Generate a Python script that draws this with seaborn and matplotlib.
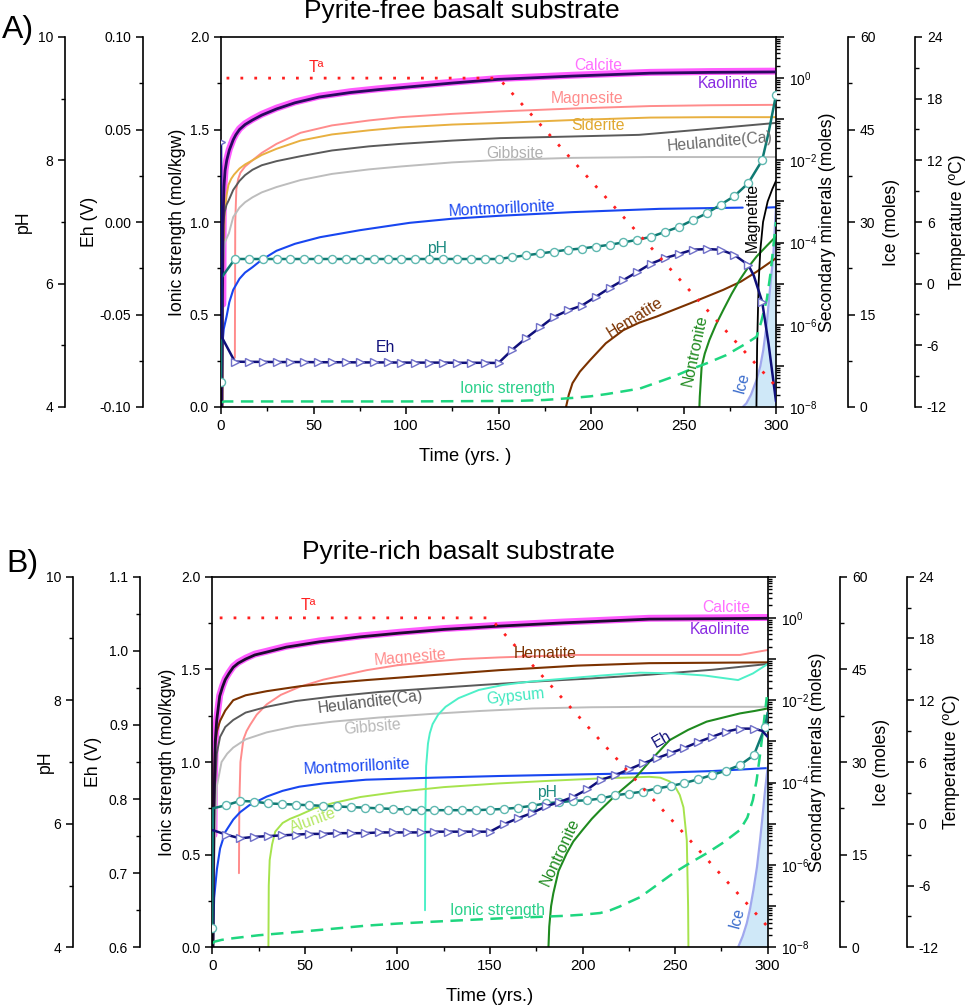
import numpy as np
import matplotlib
matplotlib.use("Agg")
import matplotlib.pyplot as plt
import seaborn as sns
from matplotlib.ticker import (MultipleLocator, FormatStrFormatter, LogLocator,
                               NullFormatter, FuncFormatter)

sns.set_theme(style="ticks", rc={
    "axes.edgecolor": "black", "xtick.color": "black", "ytick.color": "black",
    "text.color": "black", "axes.labelcolor": "black"})
plt.rcParams["font.family"] = ["Liberation Sans", "DejaVu Sans"]
plt.rcParams["mathtext.fontset"] = "custom"
plt.rcParams["mathtext.rm"] = "Liberation Sans"
plt.rcParams["mathtext.it"] = "Liberation Sans:italic"
plt.rcParams["mathtext.default"] = "regular"

# ------------------------------------------------------------------ DATA
# time samples at which pH / Eh markers were drawn (yrs)
step_times = [7.5, 15, 22.5, 30, 37.5, 45, 52.5, 60, 67.5, 75, 82.5, 90, 97.5, 105,
              112.5, 120, 127.5, 135, 142.5, 150, 157.5, 165, 172.5, 180, 187.5, 195,
              202.5, 210, 217.5, 225, 232.5, 240, 247.5, 255, 262.5, 270, 277.5, 285, 292.5]

# ---------------- Panel A: pyrite-free basalt (minerals as log10 moles)
calcite_A_t = [1.0, 1.2, 1.6, 2.2, 3.1, 4.5, 6.6, 8, 10, 13, 17, 22, 30, 40, 53, 70, 85, 100,
               125, 150, 190, 232, 265, 300]
calcite_A = [-5.5, -3.3, -2.62, -2.23, -1.98, -1.73, -1.48, -1.36, -1.23, -1.11, -1.0, -0.88,
             -0.73, -0.58, -0.44, -0.33, -0.26, -0.2, -0.1, -0.01, 0.07, 0.14, 0.16, 0.17]
kaolinite_A_t = [0.5, 0.8, 1.2, 1.6, 2.2, 3.1, 4.5, 6.6, 8, 10, 13, 17, 22, 30, 40, 53, 70, 85,
                 100, 125, 150, 190, 232, 265, 300]
kaolinite_A = [-8.5, -5.3, -3.3, -2.64, -2.25, -2.0, -1.75, -1.5, -1.38, -1.25, -1.13, -1.02,
               -0.9, -0.75, -0.6, -0.46, -0.35, -0.28, -0.22, -0.12, -0.03, 0.05, 0.12, 0.14, 0.15]
magnesite_A_t = [7.5, 7.7, 8.3, 9.3, 10.5, 13, 17, 22, 30, 43, 60, 80, 97, 125, 151, 190, 232,
                 265, 300]
magnesite_A = [-6.8, -3.5, -2.7, -2.45, -2.3, -2.15, -2.0, -1.82, -1.6, -1.33, -1.15, -1.03,
               -0.95, -0.87, -0.81, -0.74, -0.68, -0.66, -0.65]
siderite_A_t = [0.8, 1.2, 2, 3, 4, 5.5, 7, 10, 13, 17, 22, 30, 43, 60, 80, 97, 125, 151, 190,
                232, 265, 300]
siderite_A = [-8.2, -4.5, -3.3, -2.85, -2.6, -2.45, -2.35, -2.2, -2.1, -2.0, -1.87, -1.72,
              -1.52, -1.37, -1.27, -1.2, -1.13, -1.09, -1.02, -0.96, -0.95, -0.95]
heulandite_A_t = [0.4, 1, 2, 3, 4.3, 6.6, 10, 13, 17, 22, 30, 43, 60, 80, 97, 125, 151, 190,
                  226, 260, 300]
heulandite_A = [-5.5, -3.6, -3.25, -3.08, -2.96, -2.72, -2.5, -2.36, -2.23, -2.12, -2.02, -1.9,
                -1.76, -1.66, -1.6, -1.52, -1.46, -1.42, -1.38, -1.25, -1.09]
gibbsite_A_t = [0.5, 1, 2, 3, 4.3, 6.6, 10, 13, 17, 22, 30, 43, 60, 80, 97, 125, 151, 190,
                232, 300]
gibbsite_A = [-6.5, -4.5, -4.0, -3.9, -3.77, -3.38, -3.15, -3.02, -2.9, -2.78, -2.65, -2.48,
              -2.33, -2.22, -2.15, -2.05, -1.99, -1.94, -1.92, -1.92]
montmor_A_t = [0.3, 0.7, 1.5, 3, 4.5, 6.6, 10, 13, 17, 22, 30, 40, 53.5, 75, 102, 125, 150,
               190, 237, 282]
montmor_A = [-8.5, -6.5, -6.1, -5.8, -5.45, -5.15, -4.88, -4.73, -4.6, -4.42, -4.2, -4.03,
             -3.87, -3.7, -3.52, -3.42, -3.35, -3.26, -3.18, -3.15]
montmor_A2_t = [295, 300]
montmor_A2 = [-3.15, -3.14]
hematite_A_t = [186, 188, 190, 194, 199.5, 208, 217.5, 226, 235.5, 253.5, 271.5, 281, 289.5, 300]
hematite_A = [-8.1, -7.7, -7.42, -7.14, -6.86, -6.45, -6.13, -5.95, -5.8, -5.48, -5.15, -4.95,
              -4.71, -4.38]
nontronite_A_t = [258.5, 258.8, 259.8, 261.5, 264, 267.5, 271.5, 276, 280.5, 285, 289.5, 295, 300]
nontronite_A = [-8.1, -7.75, -7.02, -6.7, -6.37, -6.0, -5.64, -5.25, -4.9, -4.6, -4.34, -4.08,
                -3.85]
magnetite_A_t = [289.4, 289.8, 290.6, 291.5, 293, 295.5, 298, 300]
magnetite_A = [-8.1, -6.5, -5.0, -4.2, -3.5, -3.0, -2.7, -2.5]

ionic_A_t = [0, 2, 100, 160, 175, 190, 200, 208.5, 217, 226.5, 235, 244.5, 253, 262.5, 273,
             284, 289.5, 292, 295, 297, 300]
ionic_A = [0.025, 0.03, 0.03, 0.033, 0.038, 0.049, 0.058, 0.07, 0.084, 0.10, 0.13, 0.164, 0.2,
           0.236, 0.28, 0.344, 0.38, 0.46, 0.58, 0.72, 1.0]

ph_A_t = [0, 0.3] + step_times + [296, 300]
ph_A = [4.4, 6.1,
        6.4, 6.4, 6.4, 6.4, 6.4, 6.4, 6.4, 6.4, 6.4, 6.4,
        6.4, 6.4, 6.4, 6.4, 6.4, 6.4, 6.4, 6.4, 6.4, 6.4,
        6.43, 6.46, 6.49, 6.52, 6.55, 6.57, 6.6, 6.63, 6.67, 6.71,
        6.76, 6.84, 6.92, 7.03, 7.14, 7.28, 7.42, 7.63, 8.0,
        8.45, 9.06]
ph_A_line_only = [0.3, 296]

eh_A_t = [0, 0.3] + step_times[:38] + [288, 292.5, 296, 300]
eh_A = [0.043, -0.062,
        -0.0755, -0.0756, -0.0756, -0.0757, -0.0757, -0.0757, -0.0758, -0.0758, -0.0758, -0.0759,
        -0.0759, -0.0759, -0.076, -0.076, -0.076, -0.076, -0.0761, -0.0761, -0.0761, -0.0762,
        -0.069, -0.0627, -0.057, -0.0513, -0.0478, -0.0452, -0.0405, -0.0357, -0.0314, -0.027,
        -0.0225, -0.0195, -0.0173, -0.015, -0.0146, -0.015, -0.0178, -0.0232,
        -0.029, -0.043, -0.066, -0.097]
eh_A_line_only = [0.3, 288, 296, 300]

ice_A_t = [282, 284, 286.5, 289.5, 291.5, 293.1, 295, 296.7, 298.5, 300]
ice_A = [0, 0.6, 2.0, 4.4, 6.6, 9.2, 13.5, 19, 24.4, 32.5]
temp_A_t = [3, 150, 300]
temp_A = [20, 20, -10]

# ---------------- Panel B: pyrite-rich basalt
calcite_B_t = [0.9, 1.2, 1.6, 2.4, 4, 5.5, 7, 9, 11.3, 14, 18, 23, 29.4, 40, 58, 80, 101, 125,
               155, 190, 236, 270, 300]
calcite_B = [-5.27, -3.9, -3.0, -2.45, -1.88, -1.66, -1.48, -1.33, -1.18, -1.08, -0.98, -0.88,
             -0.81, -0.69, -0.56, -0.44, -0.35, -0.26, -0.18, -0.1, -0.01, 0.0, 0.01]
kaolinite_B_t = [0.3, 0.8, 1.2, 1.6, 2.4, 4, 5.5, 7, 9, 11.3, 14, 18, 23, 29.4, 40, 58, 80, 101,
                 125, 155, 190, 236, 270, 300]
kaolinite_B = [-8.5, -5.0, -3.9, -3.0, -2.48, -1.9, -1.68, -1.5, -1.35, -1.2, -1.1, -1.0, -0.9,
               -0.83, -0.71, -0.58, -0.46, -0.37, -0.28, -0.2, -0.12, -0.03, -0.02, -0.01]
magnesite_B_t = [14.4, 14.6, 15.2, 16.8, 18.5, 20.4, 24, 29.4, 37, 47.4, 60, 83.4, 100, 119, 135,
                 155, 175, 197, 236, 285, 300]
magnesite_B = [-6.2, -4.5, -3.5, -2.95, -2.75, -2.6, -2.35, -2.1, -1.87, -1.67, -1.5, -1.27,
               -1.15, -1.06, -1.0, -0.96, -0.93, -0.9, -0.9, -0.9, -0.78]
hematite_B_t = [0.3, 1, 1.5, 2.5, 4.2, 7, 11.3, 18, 29.4, 47.4, 65, 83.4, 119, 155, 197, 236, 300]
hematite_B = [-8.5, -4.0, -3.1, -2.75, -2.5, -2.25, -2.0, -1.88, -1.78, -1.66, -1.58, -1.51,
              -1.39, -1.27, -1.16, -1.1, -1.08]
heulandite_B_t = [0.3, 1, 2.4, 4.2, 7, 11.3, 18, 29.4, 45, 65, 90, 119, 145, 173, 205, 236, 270,
                  300]
heulandite_B = [-8.5, -4.5, -3.3, -2.89, -2.65, -2.48, -2.3, -2.16, -2.02, -1.91, -1.8, -1.71,
                -1.63, -1.55, -1.47, -1.38, -1.26, -1.12]
gibbsite_B_t = [0.3, 1, 2.4, 5, 8, 11.3, 18, 29.4, 45, 65, 90, 119, 145, 173, 205, 236, 300]
gibbsite_B = [-8.5, -6.0, -4.1, -3.5, -3.3, -3.15, -2.95, -2.78, -2.63, -2.52, -2.42, -2.33,
              -2.26, -2.2, -2.17, -2.16, -2.16]
gypsum_B_t = [114.9, 115, 115.5, 116.5, 117.5, 119, 122, 126, 133, 144, 157, 171, 189, 210, 231,
              250, 266, 284, 292, 300]
gypsum_B = [-7.1, -5.0, -3.6, -3.05, -2.8, -2.58, -2.35, -2.16, -1.95, -1.75, -1.63, -1.55, -1.48,
            -1.4, -1.33, -1.35, -1.4, -1.51, -1.35, -1.12]
montmor_B_t = [0.2, 0.5, 1, 2.5, 4.2, 7, 11.3, 15, 20, 29.4, 38, 47, 60, 83, 120, 155, 200, 236,
               270, 299]
montmor_B = [-8.5, -7.6, -6.8, -6.1, -5.6, -5.2, -4.9, -4.72, -4.55, -4.34, -4.2, -4.1, -4.02,
             -3.93, -3.88, -3.84, -3.8, -3.77, -3.72, -3.65]
alunite_B_t = [30.3, 30.5, 31, 32.3, 34, 38, 42, 47, 55, 65, 80, 101, 125, 155, 185, 209, 236,
               242, 247, 250, 252.5, 254.5, 256.3, 257, 257.2]
alunite_B = [-8.1, -6.5, -5.88, -5.5, -5.19, -4.98, -4.88, -4.79, -4.63, -4.5, -4.35, -4.22,
             -4.11, -4.02, -3.95, -3.9, -3.86, -3.88, -3.97, -4.1, -4.3, -4.6, -5.4, -7.0, -8.1]
nontronite_B_t = [181.5, 182, 183, 184.2, 187, 191.4, 195, 200, 205, 209.5, 218, 227.4, 237, 247,
                  257, 267, 276, 285, 293, 300]
nontronite_B = [-8.1, -7.5, -7.0, -6.69, -6.15, -5.72, -5.43, -5.15, -4.88, -4.67, -4.3, -3.94,
                -3.45, -2.97, -2.72, -2.52, -2.42, -2.32, -2.26, -2.2]

ionic_B_t = [0, 1, 5, 11.3, 25, 47.4, 65, 83.4, 100, 119, 137, 155, 173, 191, 200, 209.5, 215,
             220, 225, 231, 240, 249, 258, 267, 276, 285, 289, 292, 294, 296, 298, 299.5]
ionic_B = [0.02, 0.03, 0.04, 0.049, 0.065, 0.084, 0.1, 0.117, 0.128, 0.138, 0.147, 0.156, 0.163,
           0.17, 0.176, 0.185, 0.2, 0.22, 0.243, 0.27, 0.335, 0.40, 0.455, 0.507, 0.565, 0.633,
           0.7, 0.795, 0.9, 1.05, 1.22, 1.35]

ph_B_t = [0, 0.3] + step_times + [298.5, 300]
ph_B = [4.32, 6.25,
        6.30, 6.37, 6.36, 6.33, 6.32, 6.31, 6.30, 6.29, 6.28, 6.27,
        6.26, 6.25, 6.24, 6.23, 6.22, 6.22, 6.22, 6.22, 6.22, 6.23,
        6.24, 6.26, 6.29, 6.33, 6.35, 6.37, 6.38, 6.41, 6.46, 6.49,
        6.52, 6.57, 6.61, 6.66, 6.72, 6.79, 6.86, 6.95, 7.11,
        7.56, 7.8]
ph_B_line_only = [0.3, 300]

eh_B_t = [0.3] + step_times + [297, 300]
eh_B = [0.758,
        0.752, 0.747, 0.749, 0.750, 0.751, 0.752, 0.753, 0.753, 0.754, 0.754,
        0.754, 0.755, 0.755, 0.755, 0.755, 0.756, 0.756, 0.756, 0.756, 0.756,
        0.766, 0.774, 0.781, 0.79, 0.796, 0.803, 0.813, 0.826, 0.832, 0.84,
        0.848, 0.855, 0.862, 0.869, 0.877, 0.884, 0.891, 0.895, 0.895,
        0.892, 0.884]
eh_B_line_only = [0.3, 297, 300]

ice_B_t = [284, 286.5, 288.7, 290.5, 292.3, 294.2, 295.9, 297.3, 298.6, 300]
ice_B = [0, 1.8, 3.9, 6.3, 9.3, 13.0, 17.4, 21.5, 25.5, 29.2]
temp_B_t = [4, 150, 300]
temp_B = [20, 20, -10]

# ------------------------------------------------------------------ STYLE
C = dict(calcite="#ff5cff", kaolinite="#2a0a5e", magnesite="#ff8c8c", siderite="#e8b040",
         heulandite="#5a5a5a", gibbsite="#bdbdbd", montmor="#1846f0", hematite="#7b3200",
         nontronite="#1f8a1f", magnetite="#000000", gypsum="#4df0c8", alunite="#a6e34d",
         ph="#0f7a73", ph_edge="#5fb8b0", eh="#10107a", eh_edge="#7070c8",
         ionic="#1ed67f", temp="#ff2020", ice_fill="#cfe8f8", ice_edge="#a0a8ee")

FW, FH = 969, 1007
fig = plt.figure(figsize=(FW / 100, FH / 100), dpi=100)

TICK_FS = 10
LAB_FS = 12.7
TXT_FS = 11.3


def style_axis(ax):
    ax.patch.set_visible(False)
    for s in ax.spines.values():
        s.set_visible(False)
        s.set_linewidth(1.2)
    ax.tick_params(axis="both", which="major", direction="out", length=5, width=1.1,
                   labelsize=TICK_FS)
    ax.tick_params(axis="both", which="minor", direction="out", length=3, width=1.0)
    ax.tick_params(axis="x", which="both", bottom=False, top=False, labelbottom=False)
    ax.grid(False)


def line(ax, t, v, color, lw, z=2, **kw):
    sns.lineplot(x=t, y=v, ax=ax, color=color, linewidth=lw, estimator=None,
                 sort=False, zorder=z, **kw)


def build_panel(geom, minerals, ionic, ph, eh, ice, temp, eh_lim, eh_major, eh_minor, eh_fmt,
                labels, title, title_xy, letter, letter_xy, xlabel, xlabel_xy,
                axlab_x):
    x0, ytop, x1, ybot = geom
    W, H = x1 - x0, ybot - ytop
    rect = [x0 / FW, 1 - ybot / FH, W / FW, H / FH]

    ax_ice = fig.add_axes(rect, zorder=1)
    ax_min = fig.add_axes(rect, zorder=2, sharex=ax_ice)
    ax_ion = fig.add_axes(rect, zorder=3, sharex=ax_ice)
    ax_ph = fig.add_axes(rect, zorder=4, sharex=ax_ice)
    ax_eh = fig.add_axes(rect, zorder=5, sharex=ax_ice)
    ax_T = fig.add_axes(rect, zorder=6, sharex=ax_ice)
    for a in (ax_ice, ax_min, ax_ion, ax_ph, ax_eh, ax_T):
        style_axis(a)

    # --- ice
    it, iv = ice
    ax_ice.fill_between(it, 0, iv, color=C["ice_fill"], lw=0)
    line(ax_ice, it, iv, C["ice_edge"], 1.6)
    ax_ice.set_ylim(0, 60)
    ax_ice.yaxis.tick_right()
    ax_ice.yaxis.set_label_position("right")
    ax_ice.spines["right"].set_visible(True)
    ax_ice.spines["right"].set_position(("axes", (axlab_x["ice_sp"] - x0) / W))
    ax_ice.yaxis.set_major_locator(MultipleLocator(15))
    ax_ice.yaxis.set_minor_locator(MultipleLocator(7.5))
    ax_ice.yaxis.set_major_formatter(FormatStrFormatter("%d"))

    # --- minerals (log axis)
    for t, v, col, lw, z in minerals:
        line(ax_min, t, 10 ** np.asarray(v, dtype=float), col, lw, z)
    ax_min.set_yscale("log")
    ax_min.set_ylim(1e-8, 1e1)
    ax_min.yaxis.tick_right()
    ax_min.yaxis.set_label_position("right")
    ax_min.spines["right"].set_visible(True)
    ax_min.yaxis.set_major_locator(LogLocator(base=10, numticks=30))
    ax_min.yaxis.set_minor_locator(LogLocator(base=10, subs=np.arange(2, 10), numticks=30))
    ax_min.yaxis.set_minor_formatter(NullFormatter())

    def logfmt(v, pos):
        e = int(round(np.log10(v)))
        return r"$10^{%d}$" % e if e % 2 == 0 else ""
    ax_min.yaxis.set_major_formatter(FuncFormatter(logfmt))
    ax_min.tick_params(axis="y", which="major", length=6)

    # --- ionic strength (main axis)
    line(ax_ion, ionic[0], ionic[1], C["ionic"], 1.8, linestyle=(0, (5, 3)))
    ax_ion.set_ylim(0, 2.0)
    ax_ion.set_xlim(0, 300)
    for s in ("left", "bottom", "top"):
        ax_ion.spines[s].set_visible(True)
    ax_ion.yaxis.tick_left()
    ax_ion.yaxis.set_major_locator(MultipleLocator(0.5))
    ax_ion.yaxis.set_minor_locator(MultipleLocator(0.25))
    ax_ion.yaxis.set_major_formatter(FormatStrFormatter("%.1f"))
    ax_ion.tick_params(axis="x", which="both", bottom=True, labelbottom=True)
    ax_ion.xaxis.set_major_locator(MultipleLocator(50))
    ax_ion.xaxis.set_minor_locator(MultipleLocator(25))
    ax_ion.xaxis.set_major_formatter(FormatStrFormatter("%d"))
    ax_ion.tick_params(axis="x", which="major", labelsize=TICK_FS + 1)

    # --- pH
    pt, pv, p_line_only = ph
    idx = [i for i, t in enumerate(pt) if t not in p_line_only]
    line(ax_ph, pt, pv, C["ph"], 1.8, z=3, marker="o", markersize=5.8,
         markerfacecolor="white", markeredgecolor=C["ph_edge"], markeredgewidth=1.0,
         markevery=idx)
    ax_ph.set_ylim(4, 10)
    ax_ph.yaxis.tick_left()
    ax_ph.spines["left"].set_visible(True)
    ax_ph.spines["left"].set_position(("axes", (axlab_x["ph_sp"] - x0) / W))
    ax_ph.yaxis.set_major_locator(MultipleLocator(2))
    ax_ph.yaxis.set_minor_locator(MultipleLocator(1))
    ax_ph.yaxis.set_major_formatter(FormatStrFormatter("%d"))

    # --- Eh
    et, ev, e_line_only = eh
    idx = [i for i, t in enumerate(et) if t not in e_line_only]
    line(ax_eh, et, ev, C["eh"], 1.8, z=3, marker=">", markersize=6.2,
         markerfacecolor="white", markeredgecolor=C["eh_edge"], markeredgewidth=1.0,
         markevery=idx)
    ax_eh.set_ylim(*eh_lim)
    ax_eh.yaxis.tick_left()
    ax_eh.spines["left"].set_visible(True)
    ax_eh.spines["left"].set_position(("axes", (axlab_x["eh_sp"] - x0) / W))
    ax_eh.yaxis.set_major_locator(MultipleLocator(eh_major))
    ax_eh.yaxis.set_minor_locator(MultipleLocator(eh_minor))
    ax_eh.yaxis.set_major_formatter(FormatStrFormatter(eh_fmt))

    # --- temperature
    line(ax_T, temp[0], temp[1], C["temp"], 2.0, linestyle=(0, (1, 4)))
    ax_T.set_ylim(-12, 24)
    ax_T.yaxis.tick_right()
    ax_T.yaxis.set_label_position("right")
    ax_T.spines["right"].set_visible(True)
    ax_T.spines["right"].set_position(("axes", (axlab_x["T_sp"] - x0) / W))
    ax_T.yaxis.set_major_locator(MultipleLocator(6))
    ax_T.yaxis.set_minor_locator(MultipleLocator(3))
    ax_T.yaxis.set_major_formatter(FormatStrFormatter("%d"))
    ax_T.set_xlim(0, 300)

    # --- axis labels
    for a, txt, key in ((ax_ph, "pH", "ph"), (ax_eh, "Eh (V)", "eh"),
                        (ax_ion, "Ionic strength (mol/kgw)", "ion"),
                        (ax_min, "Secondary minerals (moles)", "min"),
                        (ax_ice, "Ice (moles)", "ice"), (ax_T, "Temperature (ºC)", "T")):
        a.set_ylabel(txt, fontsize=LAB_FS)
        a.yaxis.set_label_coords((axlab_x[key] - x0) / W, 0.5)
        a.yaxis.label.set_rotation(90)
        a.yaxis.label.set_rotation_mode("anchor")
        a.yaxis.label.set_ha("center")
        a.yaxis.label.set_va("center")
    for a in (ax_ice, ax_min, ax_ion, ax_ph, ax_eh, ax_T):
        a.set_xlabel("")
    fig.text(xlabel_xy[0] / FW, 1 - xlabel_xy[1] / FH, xlabel, ha="center", va="baseline",
             fontsize=LAB_FS + 0.5)

    # --- curve labels (pixel positions inside the panel)
    for txt, px, py, col, rot in labels:
        ax_T.text((px - x0) / W, (ybot - py) / H, txt, transform=ax_T.transAxes,
                  color=col, rotation=rot, ha="center", va="center", fontsize=TXT_FS,
                  rotation_mode="anchor", clip_on=False)

    fig.text(title_xy[0] / FW, 1 - title_xy[1] / FH, title, ha="center", va="baseline",
             fontsize=19)
    fig.text(letter_xy[0] / FW, 1 - letter_xy[1] / FH, letter, ha="left", va="baseline",
             fontsize=23)


minerals_A = [
    (calcite_A_t, calcite_A, C["calcite"], 5.0, 2),
    (kaolinite_A_t, kaolinite_A, C["kaolinite"], 2.0, 3),
    (magnesite_A_t, magnesite_A, C["magnesite"], 1.4, 2),
    (siderite_A_t, siderite_A, C["siderite"], 1.4, 2),
    (heulandite_A_t, heulandite_A, C["heulandite"], 1.4, 2),
    (gibbsite_A_t, gibbsite_A, C["gibbsite"], 1.4, 2),
    (montmor_A_t, montmor_A, C["montmor"], 1.5, 2),
    (montmor_A2_t, montmor_A2, C["montmor"], 1.5, 2),
    (hematite_A_t, hematite_A, C["hematite"], 1.5, 2),
    (nontronite_A_t, nontronite_A, C["nontronite"], 1.5, 2),
    (magnetite_A_t, magnetite_A, C["magnetite"], 1.3, 2),
]
labels_A = [
    ("Tª", 316, 68, "#ff2020", 0),
    ("Calcite", 598, 65, "#ff70ff", 0),
    ("Kaolinite", 728, 83, "#8a2be2", 0),
    ("Magnesite", 587, 98, "#ff8c8c", 0),
    ("Siderite", 598, 126, "#e0a830", 0),
    ("Heulandite(Ca)", 720, 142, "#6a6a6a", 5),
    ("Gibbsite", 515, 153, "#b0b0b0", 0),
    ("Montmorillonite", 502, 209, "#1846f0", 3),
    ("pH", 437, 248, "#1a8a80", 0),
    ("Eh", 385, 347, "#10107a", 0),
    ("Ionic strength", 507, 389, "#2ad08a", 0),
    ("Hematite", 635, 318, "#7b3200", 32),
    ("Nontronite", 695, 350, "#1f8a1f", 78),
    ("Magnetite", 752, 217, "#000000", 90),
    ("Ice", 742, 383, "#3a6ccc", 75),
]
build_panel(
    geom=(221, 37, 776, 407), minerals=minerals_A, ionic=(ionic_A_t, ionic_A),
    ph=(ph_A_t, ph_A, ph_A_line_only), eh=(eh_A_t, eh_A, eh_A_line_only),
    ice=(ice_A_t, ice_A), temp=(temp_A_t, temp_A),
    eh_lim=(-0.10, 0.10), eh_major=0.05, eh_minor=0.025, eh_fmt="%.2f",
    labels=labels_A, title="Pyrite-free basalt substrate", title_xy=(462, 18),
    letter="A)", letter_xy=(2, 38), xlabel="Time (yrs. )", xlabel_xy=(465, 461),
    axlab_x=dict(ph_sp=65, eh_sp=143, ice_sp=848, T_sp=915,
                 ph=23, eh=90, ion=178, min=827, ice=892, T=958))

minerals_B = [
    (calcite_B_t, calcite_B, C["calcite"], 5.0, 2),
    (kaolinite_B_t, kaolinite_B, "#1e0a30", 2.0, 3),
    (magnesite_B_t, magnesite_B, C["magnesite"], 1.4, 2),
    (hematite_B_t, hematite_B, C["hematite"], 1.5, 2),
    (heulandite_B_t, heulandite_B, C["heulandite"], 1.4, 2),
    (gibbsite_B_t, gibbsite_B, C["gibbsite"], 1.4, 2),
    (gypsum_B_t, gypsum_B, C["gypsum"], 1.4, 2),
    (montmor_B_t, montmor_B, C["montmor"], 1.5, 2),
    (alunite_B_t, alunite_B, C["alunite"], 1.4, 2),
    (nontronite_B_t, nontronite_B, C["nontronite"], 1.5, 2),
]
labels_B = [
    ("Tª", 308, 606, "#ff2020", 0),
    ("Calcite", 726, 608, "#ff70ff", 0),
    ("Kaolinite", 720, 629, "#8a2be2", 0),
    ("Magnesite", 410, 657, "#ff8c8c", 5),
    ("Hematite", 545, 654, "#7b3200", 0),
    ("Heulandite(Ca)", 370, 702, "#5a5a5a", 7),
    ("Gypsum", 515, 696, "#40e8c0", 6),
    ("Gibbsite", 372, 727, "#b8b8b8", 5),
    ("Montmorillonite", 357, 767, "#1846f0", 3),
    ("Alunite", 313, 821, "#b8e868", 20),
    ("pH", 547, 793, "#1a8a80", 0),
    ("Eh", 662, 739, "#10107a", 30),
    ("Ionic strength", 497, 911, "#2ad08a", 0),
    ("Nontronite", 560, 852, "#1f8a1f", 65),
    ("Ice", 737, 918, "#3a6ccc", 75),
]
build_panel(
    geom=(212.3, 576.7, 767.7, 947.3), minerals=minerals_B, ionic=(ionic_B_t, ionic_B),
    ph=(ph_B_t, ph_B, ph_B_line_only), eh=(eh_B_t, eh_B, eh_B_line_only),
    ice=(ice_B_t, ice_B), temp=(temp_B_t, temp_B),
    eh_lim=(0.6, 1.1), eh_major=0.1, eh_minor=0.05, eh_fmt="%.1f",
    labels=labels_B, title="Pyrite-rich basalt substrate", title_xy=(458, 559),
    letter="B)", letter_xy=(6, 572), xlabel="Time (yrs.)", xlabel_xy=(490, 1001),
    axlab_x=dict(ph_sp=73, eh_sp=140, ice_sp=840, T_sp=906.7,
                 ph=45, eh=93, ion=167, min=818, ice=882, T=952))

fig.savefig("out.png", dpi=100)
